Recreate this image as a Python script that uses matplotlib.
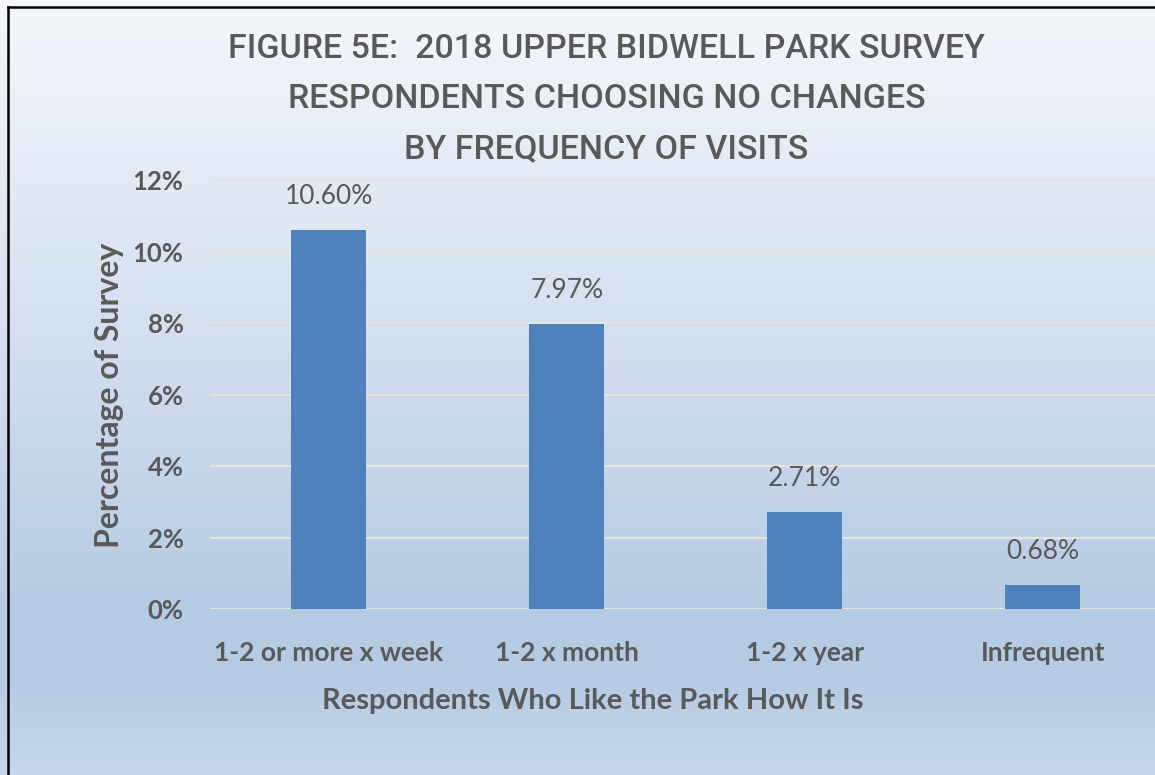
import numpy as np
import matplotlib.pyplot as plt
from matplotlib.colors import LinearSegmentedColormap

# Survey results: respondents who want no changes, by visit frequency
categories = ['1-2 or more x week', '1-2 x month', '1-2 x year', 'Infrequent']
percent = [10.60, 7.97, 2.71, 0.68]
y_ticks = [0, 2, 4, 6, 8, 10, 12]

title_lines = ['FIGURE 5E:  2018 UPPER BIDWELL PARK SURVEY',
               'RESPONDENTS CHOOSING NO CHANGES',
               'BY FREQUENCY OF VISITS']

text_gray = '#595959'
bar_blue = '#4F81BD'
body_font = ['Lato', 'DejaVu Sans']
title_font = ['Roboto', 'DejaVu Sans']

fig = plt.figure(figsize=(11.55, 7.75), dpi=100)

# vertical gradient background over the whole figure
bg = fig.add_axes([0, 0, 1, 1], zorder=-1)
bg_cmap = LinearSegmentedColormap.from_list('bg', [
    (0.00, '#F5F7FB'),
    (0.40, '#D6E1F0'),
    (0.80, '#B5CAE3'),
    (0.88, '#B6CBE4'),
    (1.00, '#C6D7EC'),
])
bg.imshow(np.linspace(0, 1, 256).reshape(-1, 1), aspect='auto', cmap=bg_cmap,
          extent=[0, 1, 0, 1], origin='upper')
bg.set_xlim(0, 1)
bg.set_ylim(0, 1)
bg.axis('off')
# frame: black rule on top and left
bg.plot([0.007, 1], [0.991, 0.991], color='black', lw=1.8)
bg.plot([0.007, 0.007], [0, 0.991], color='black', lw=1.8)

ax = fig.add_axes([0.1818, 0.2142, 0.824, 0.5535])
ax.patch.set_alpha(0)
x = np.arange(len(categories))
bars = ax.bar(x, percent, width=0.315, color=bar_blue, zorder=3)

for xi, v in zip(x, percent):
    ax.annotate(f'{v:.2f}%', (xi, v), xytext=(0, 15), textcoords='offset points',
                ha='center', va='bottom', fontsize=19, color=text_gray,
                family=body_font)

ax.set_xlim(-0.5, 3.5)
ax.set_ylim(0, 12)
ax.set_yticks(y_ticks)
ax.set_yticklabels([f'{t}%' for t in y_ticks])
ax.set_xticks(x)
ax.set_xticklabels(categories)
ax.yaxis.grid(True, color='#E6E2DC', lw=1.6, zorder=0)
ax.set_axisbelow(True)
for s in ax.spines.values():
    s.set_visible(False)
ax.tick_params(axis='both', length=0, colors=text_gray)
ax.tick_params(axis='y', pad=19, labelsize=18.5)
ax.tick_params(axis='x', pad=23, labelsize=19)
for lbl in ax.get_xticklabels() + ax.get_yticklabels():
    lbl.set_fontweight('bold')
    lbl.set_family(body_font)

fig.text(0.513, 0.095, 'Respondents Who Like the Park How It Is', ha='center',
         va='center', fontsize=21, fontweight='bold', color=text_gray,
         family=body_font)
fig.text(0.095, 0.490, 'Percentage of Survey', rotation=90, ha='center',
         va='center', fontsize=23, fontweight='bold', color=text_gray,
         family=body_font)

for i, line in enumerate(title_lines):
    fig.text(0.525, 0.937 - i * 0.0645, line, ha='center', va='center',
             fontsize=24.5, fontweight='medium', color=text_gray,
             family=title_font)

fig.savefig('out.png', dpi=100)
